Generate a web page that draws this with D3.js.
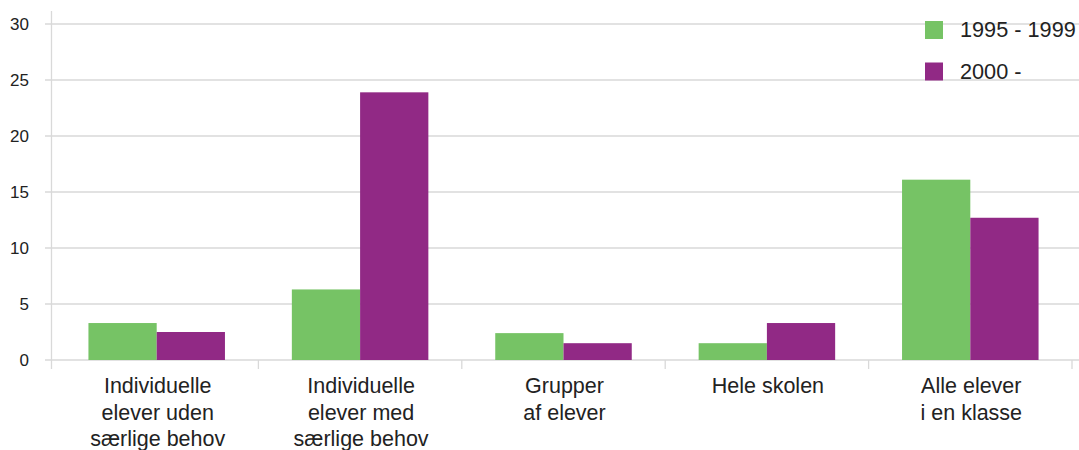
<!DOCTYPE html>
<html>
<head>
<meta charset="utf-8">
<script src="https://cdn.jsdelivr.net/npm/d3@7"></script>
<style>
  html, body { margin: 0; padding: 0; background: #fff; }
  svg { display: block; font-family: "Liberation Sans", Arial, sans-serif; }
</style>
</head>
<body>
<svg id="chart" width="1079" height="450"></svg>
<script>
const categories = [
  ["Individuelle", "elever uden", "særlige behov"],
  ["Individuelle", "elever med", "særlige behov"],
  ["Grupper", "af elever"],
  ["Hele skolen"],
  ["Alle elever", "i en klasse"]
];
const seriesNames = ["1995 - 1999", "2000 -"];
const values1995 = [3.3, 6.3, 2.4, 1.5, 16.1];
const values2000 = [2.5, 23.9, 1.5, 3.3, 12.7];
const yTicks = [0, 5, 10, 15, 20, 25, 30];
const colors = ["#76c365", "#912985"];

const svg = d3.select("#chart");
const plotLeft = 55, plotRight = 1072, plotTop = 24, plotBottom = 360;

const x0 = d3.scaleBand().domain(d3.range(categories.length)).range([plotLeft, plotRight]).paddingInner(0).paddingOuter(0);
const x1 = d3.scaleBand().domain([0, 1]).range([0, x0.bandwidth()]).paddingInner(0).paddingOuter(0.49);
const y = d3.scaleLinear().domain([0, 30]).range([plotBottom, plotTop]);

// gridlines
svg.append("g").selectAll("line").data(yTicks).join("line")
  .attr("x1", 45).attr("x2", 1079)
  .attr("y1", d => y(d)).attr("y2", d => y(d))
  .attr("stroke", "#d9d9d9").attr("stroke-width", 1.3);

// y axis line
svg.append("line").attr("x1", 51.5).attr("x2", 51.5).attr("y1", 11).attr("y2", 369)
  .attr("stroke", "#d9d9d9").attr("stroke-width", 1.3);

// category separator ticks
const sepPos = d3.range(1, categories.length + 1).map(i => i < categories.length ? x0(i) : plotRight);
svg.append("g").selectAll("line").data(sepPos).join("line")
  .attr("x1", d => d).attr("x2", d => d)
  .attr("y1", plotBottom).attr("y2", 369)
  .attr("stroke", "#d9d9d9").attr("stroke-width", 1.3);

// y tick labels
svg.append("g").selectAll("text").data(yTicks).join("text")
  .attr("x", 29).attr("y", d => y(d)).attr("dy", "0.35em")
  .attr("text-anchor", "end").attr("font-size", 17).attr("fill", "#222")
  .text(d => d);

// bars
const series = [values1995, values2000];
series.forEach((vals, s) => {
  svg.append("g").selectAll("rect").data(vals).join("rect")
    .attr("x", (d, i) => x0(i) + x1(s))
    .attr("width", x1.bandwidth())
    .attr("y", d => y(d))
    .attr("height", d => y(0) - y(d))
    .attr("fill", colors[s]);
});

// category labels
const lab = svg.append("g");
categories.forEach((lines, i) => {
  const cx = x0(i) + x0.bandwidth() / 2 + 1;
  const t = lab.append("text")
    .attr("x", cx).attr("y", 393)
    .attr("text-anchor", "middle").attr("font-size", 21.5).attr("fill", "#222");
  lines.forEach((l, k) => {
    t.append("tspan").attr("x", cx).attr("y", 393 + k * 26.5).text(l);
  });
});

// legend
const lg = svg.append("g");
seriesNames.forEach((n, i) => {
  lg.append("rect").attr("x", 925).attr("y", 21 + i * 41.5).attr("width", 18).attr("height", 18).attr("fill", colors[i]);
  lg.append("text").attr("x", 960).attr("y", 37 + i * 41.5).attr("font-size", 21.7).attr("fill", "#222").text(n);
});
</script>
</body>
</html>
